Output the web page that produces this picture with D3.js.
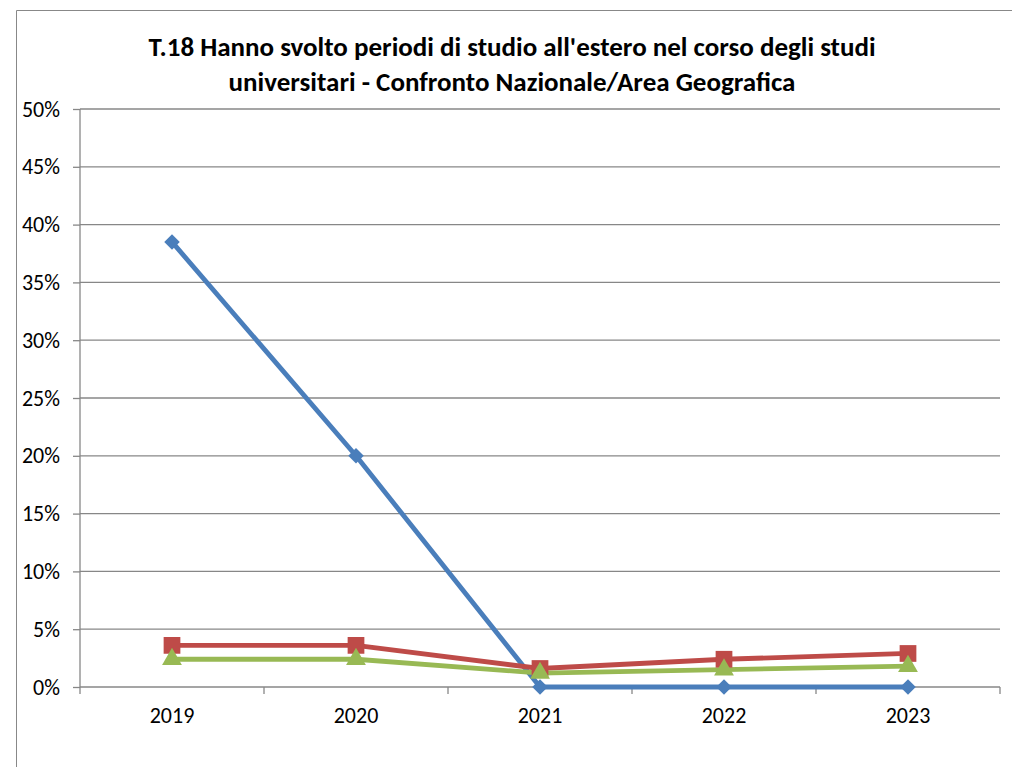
<!DOCTYPE html>
<html><head><meta charset="utf-8">
<script src="https://cdn.jsdelivr.net/npm/d3@7"></script>
<style>body{margin:0;background:#fff;} svg{display:block;}</style>
</head><body>
<svg id="c" width="1012" height="767"></svg>
<script>
const categories = ["2019","2020","2021","2022","2023"];
const seriesBlue = [38.5, 20.0, 0, 0, 0];
const seriesRed = [3.6, 3.6, 1.6, 2.4, 2.9];
const seriesGreen = [2.4, 2.4, 1.2, 1.5, 1.8];
const yTicks = [0,5,10,15,20,25,30,35,40,45,50];
const titleLines = ["T.18 Hanno svolto periodi di studio all'estero nel corso degli studi","universitari - Confronto Nazionale/Area Geografica"];

const svg = d3.select("#c");
const font = "Carlito, Calibri, 'Liberation Sans', Arial, sans-serif";
// chart frame
svg.append("path").attr("d","M16.5,767 L16.5,10.5 L1012,10.5").attr("fill","none").attr("stroke","#888").attr("stroke-width",1);

const L=80, R=1000, T=109, B=687;
const x = d3.scaleBand().domain(categories).range([L,R]);
const y = d3.scaleLinear().domain([0,50]).range([B,T]);

// gridlines
svg.append("g").selectAll("line").data(yTicks.filter(d=>d>0)).join("line")
  .attr("x1",L).attr("x2",R).attr("y1",d=>y(d)).attr("y2",d=>y(d))
  .attr("stroke","#878787").attr("stroke-width",1.3);

// y axis
const yAxis = d3.axisLeft(y).tickValues(yTicks).tickFormat(d=>d+"%").tickSize(7).tickPadding(13);
const gy = svg.append("g").attr("transform",`translate(${L},0)`).call(yAxis);
gy.select(".domain").attr("stroke","#878787").attr("stroke-width",1.3).attr("d",`M0,${T}V${B}`);
gy.selectAll(".tick line").attr("stroke","#878787").attr("stroke-width",1.3);
gy.selectAll("text").attr("font-family",font).attr("font-size",22).attr("fill","#000");

// x axis
const xAxis = d3.axisBottom(x).tickSize(0).tickPadding(20);
const gx = svg.append("g").attr("transform",`translate(0,${B})`).call(xAxis);
gx.select(".domain").attr("stroke","#878787").attr("stroke-width",1.3).attr("d",`M${L},0H${R}`);
gx.selectAll("text").attr("font-family",font).attr("font-size",22).attr("fill","#000");
// boundary ticks
const bounds = categories.map(c=>x(c)).concat([R]);
svg.append("g").selectAll("line").data(bounds).join("line")
  .attr("x1",d=>d).attr("x2",d=>d).attr("y1",B).attr("y2",B+7)
  .attr("stroke","#878787").attr("stroke-width",1.3);

const cx = c => x(c)+x.bandwidth()/2;
const line = d3.line().x((d,i)=>cx(categories[i])).y(d=>y(d));

const series = [
  {data:seriesBlue, color:"#4a7ebb", sym:d3.symbolSquare, size:120, rot:45},
  {data:seriesRed, color:"#be4b48", sym:d3.symbolSquare, size:280, rot:0},
  {data:seriesGreen, color:"#98b954", sym:d3.symbolTriangle, size:170, rot:0}
];
series.forEach(s=>{
  svg.append("path").datum(s.data).attr("d",line).attr("fill","none")
    .attr("stroke",s.color).attr("stroke-width",4.8).attr("stroke-linejoin","round");
});
series.forEach(s=>{
  svg.append("g").selectAll("path").data(s.data).join("path")
    .attr("d",d3.symbol().type(s.sym).size(s.size))
    .attr("transform",(d,i)=>`translate(${cx(categories[i])},${y(d)}) rotate(${s.rot})`)
    .attr("fill",s.color);
});

// title
svg.append("g").selectAll("text").data(titleLines).join("text")
  .attr("x",512).attr("y",(d,i)=>56+i*35).attr("text-anchor","middle")
  .attr("font-family",font).attr("font-weight","bold").attr("font-size",27).attr("fill","#000")
  .text(d=>d);
</script>
</body></html>
